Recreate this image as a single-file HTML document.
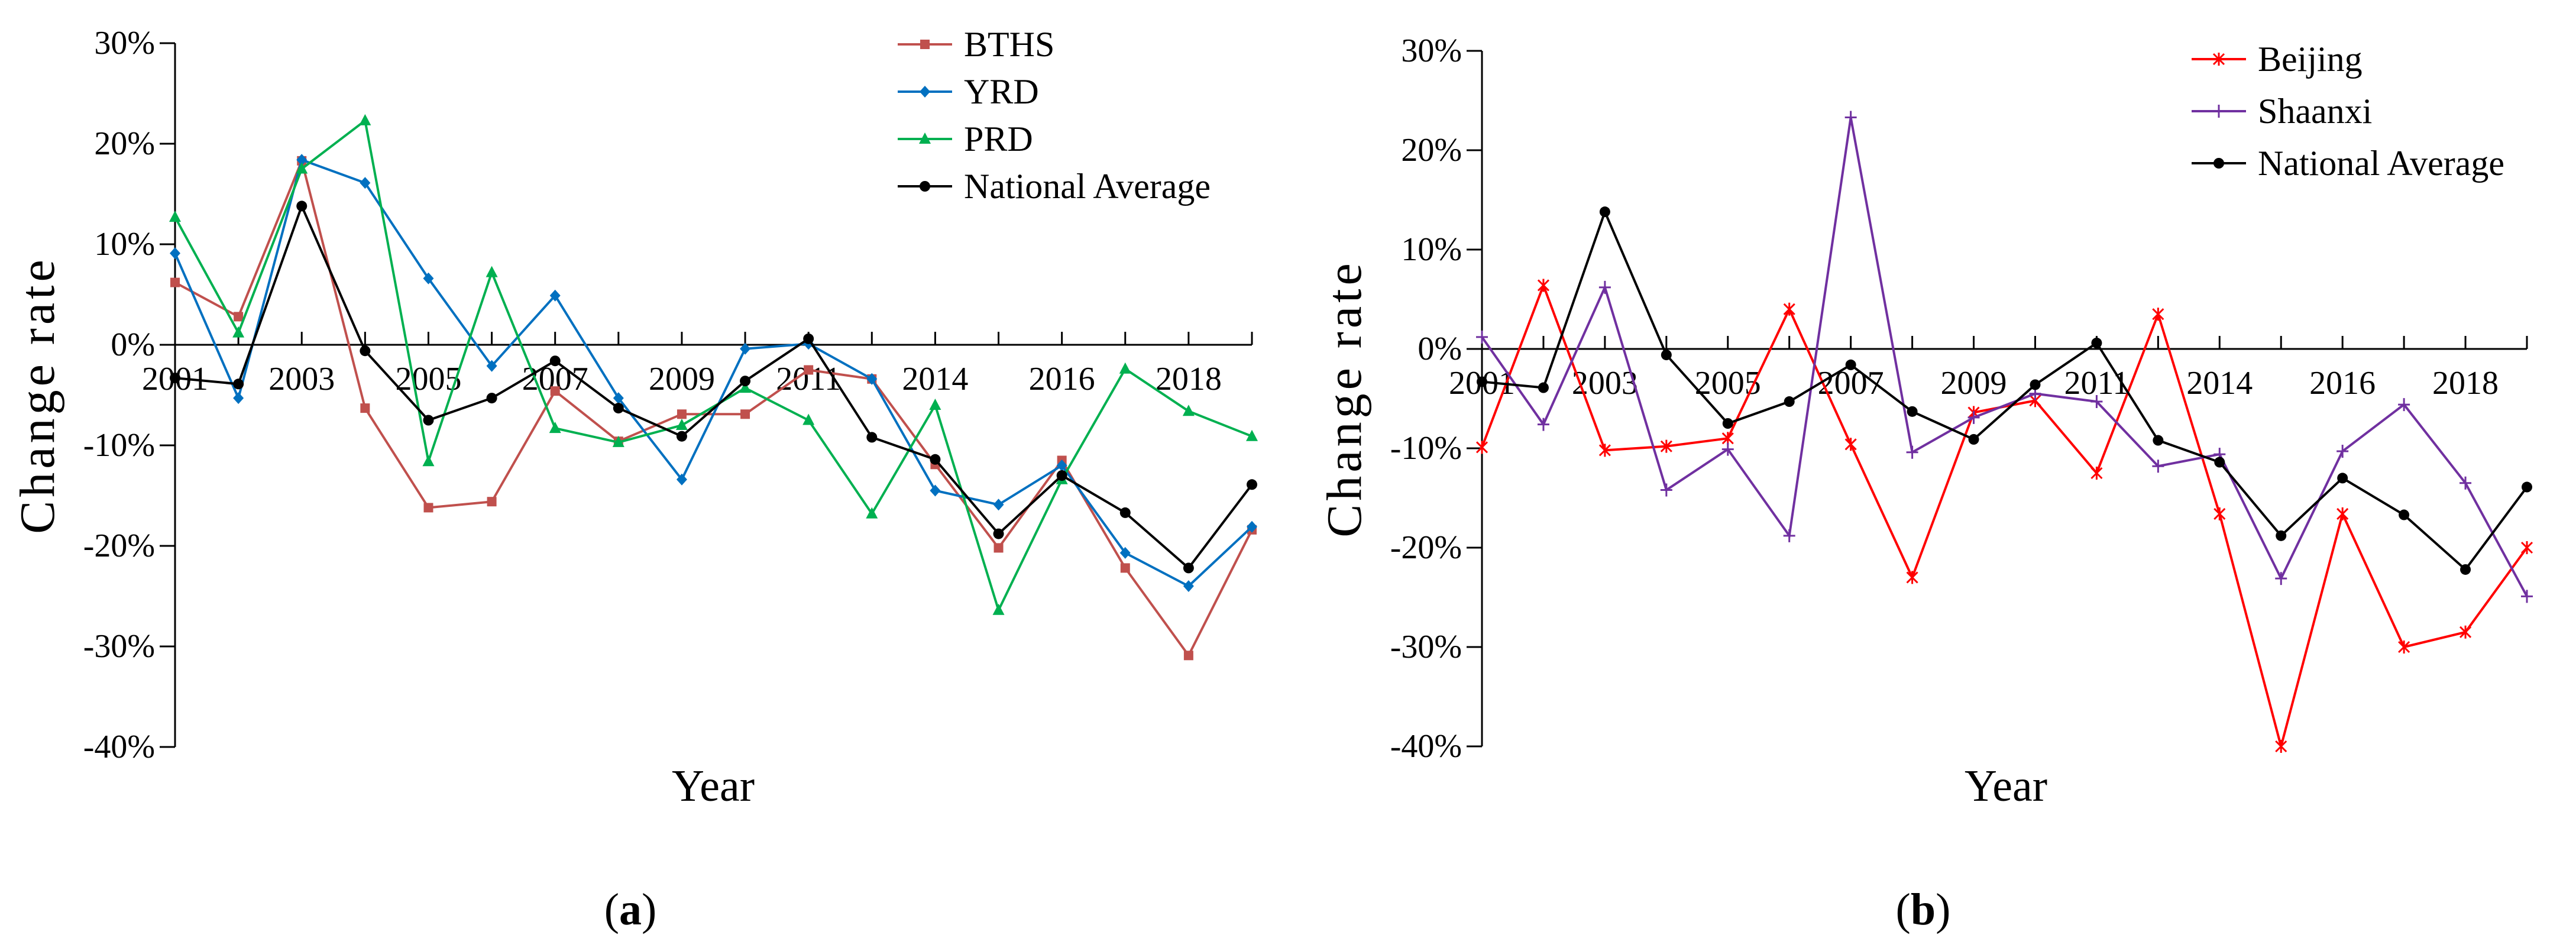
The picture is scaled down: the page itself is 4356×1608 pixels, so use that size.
<!DOCTYPE html>
<html><head><meta charset="utf-8"><style>
html,body{margin:0;padding:0;background:#fff;}
svg{display:block;font-family:"Liberation Serif",serif;}
</style></head><body>
<svg id="fig" width="4356" height="1608" viewBox="0 0 4356 1608" xmlns="http://www.w3.org/2000/svg"></svg>
<script>
const categories = ["2001","2002","2003","2004","2005","2006","2007","2008","2009","2010","2011","2012","2014","2015","2016","2017","2018","2019"];
const tickLabels = ["2001","2003","2005","2007","2009","2011","2014","2016","2018"];
const yTicks = [30,20,10,0,-10,-20,-30,-40];
const bths = [6.2,2.8,18.3,-6.3,-16.2,-15.6,-4.6,-9.6,-6.9,-6.9,-2.5,-3.4,-11.9,-20.2,-11.5,-22.2,-30.9,-18.4];
const yrd = [9.1,-5.3,18.4,16.1,6.6,-2.1,4.9,-5.3,-13.4,-0.4,0.1,-3.4,-14.5,-15.9,-12.0,-20.7,-24.0,-18.1];
const prd = [12.7,1.2,17.5,22.3,-11.6,7.2,-8.3,-9.7,-8.0,-4.3,-7.5,-16.8,-6.0,-26.4,-13.4,-2.4,-6.6,-9.1];
const national = [-3.3,-3.9,13.8,-0.6,-7.5,-5.3,-1.6,-6.3,-9.1,-3.6,0.6,-9.2,-11.4,-18.8,-13.0,-16.7,-22.2,-13.9];
const beijing = [-9.9,6.4,-10.2,-9.8,-9.0,4.0,-9.6,-23.0,-6.4,-5.2,-12.5,3.5,-16.6,-40.0,-16.6,-30.0,-28.5,-20.0];
const shaanxi = [1.2,-7.6,6.2,-14.2,-10.1,-18.8,23.3,-10.4,-6.9,-4.5,-5.3,-11.8,-10.6,-23.1,-10.3,-5.6,-13.5,-24.9];

const NS="http://www.w3.org/2000/svg";
const svg=document.getElementById('fig');
function mk(tag,attrs,parent,text){const e=document.createElementNS(NS,tag);for(const k in attrs)e.setAttribute(k,attrs[k]);if(text!==undefined)e.textContent=text;(parent||svg).appendChild(e);return e;}

function marker(g,type,x,y,color){
  let m;
  if(type==='square') m=mk('rect',{x:x-8,y:y-8,width:16,height:16,fill:color},g);
  else if(type==='diamond') m=mk('polygon',{points:`${x},${y-10} ${x+9},${y} ${x},${y+10} ${x-9},${y}`,fill:color},g);
  else if(type==='triangle') m=mk('polygon',{points:`${x},${y-11} ${x+10},${y+8} ${x-10},${y+8}`,fill:color},g);
  else if(type==='circle') m=mk('circle',{cx:x,cy:y,r:9,fill:color},g);
  else if(type==='star'){m=mk('path',{d:`M${x-9},${y-9}L${x+9},${y+9}M${x-9},${y+9}L${x+9},${y-9}M${x},${y-11}L${x},${y+11}`,stroke:color,'stroke-width':3,fill:'none'},g);}
  else if(type==='plus'){m=mk('path',{d:`M${x-10},${y}L${x+10},${y}M${x},${y-11}L${x},${y+11}`,stroke:color,'stroke-width':3,fill:'none'},g);}
  return m;
}

function chart(cfg){
  const g=mk('g',{});
  
  
  const n=categories.length;
  const xS=i=>cfg.x0+i*(cfg.x1-cfg.x0)/(n-1);
  const yS=v=>cfg.y0-v*cfg.per10/10;
  // y axis
  const ya=mk('line',{x1:cfg.x0,y1:yS(30),x2:cfg.x0,y2:yS(-40),stroke:'#000','stroke-width':3},g);
  
  
  yTicks.forEach(t=>{
    mk('line',{x1:cfg.x0-26,y1:yS(t),x2:cfg.x0,y2:yS(t),stroke:'#000','stroke-width':3},g);
    const tl=mk('text',{x:cfg.x0-34,y:yS(t)+18,'font-size':56,'text-anchor':'end'},g,t+'%');
    
    
  });
  // x axis at 0
  const xa=mk('line',{x1:cfg.x0,y1:yS(0),x2:cfg.x1,y2:yS(0),stroke:'#000','stroke-width':3},g);
  
  
  for(let i=1;i<n;i++) mk('line',{x1:xS(i),y1:yS(0)-22,x2:xS(i),y2:yS(0),stroke:'#000','stroke-width':3},g);
  tickLabels.forEach(l=>{
    const i=categories.indexOf(l);
    const tl=mk('text',{x:xS(i),y:yS(0)+76,'font-size':56,'text-anchor':'middle'},g,l);
    
    
  });
  // series
  cfg.series.forEach(s=>{
    const sg=mk('g',{},g);
    
    
    const pts=s.data.map((v,i)=>xS(i)+','+yS(v)).join(' ');
    mk('polyline',{points:pts,fill:'none',stroke:s.color,'stroke-width':4},sg);
    s.data.forEach((v,i)=>{const m=marker(sg,s.marker,xS(i),yS(v),s.color);
      
      });
  });
  // legend
  cfg.series.forEach((s,k)=>{
    const y=cfg.legY+k*cfg.legDy;
    const lg=mk('g',{},g);
    
    
    mk('line',{x1:cfg.legX,y1:y,x2:cfg.legX+92,y2:y,stroke:s.color,'stroke-width':4},lg);
    marker(lg,s.marker,cfg.legX+46,y,s.color);
    mk('text',{x:cfg.legX+112,y:y+20,'font-size':60},lg,s.label);
  });
  const yt=mk('text',{x:0,y:0,'font-size':84,'text-anchor':'middle','letter-spacing':6,transform:`translate(${cfg.x0-205},${yS(-5)}) rotate(-90)`},g,'Change  rate');
  
  
  const xt=mk('text',{x:cfg.xTitleX,y:1354,'font-size':76,'text-anchor':'middle'},g,'Year');
  
  
  const cap=mk('text',{x:cfg.xTitleX-140,y:1563,'font-size':76,'text-anchor':'middle'},g);
  
  
  mk('tspan',{},cap,'(');mk('tspan',{'font-weight':'bold'},cap,cfg.cap);mk('tspan',{},cap,')');
}

chart({name:'chart-a',x0:296,x1:2117,y0:583,per10:170,legX:1518,legY:75,legDy:80,xTitleX:1206,cap:'a',
  series:[{key:'bths',label:'BTHS',data:bths,color:'#c0504d',marker:'square'},
          {key:'yrd',label:'YRD',data:yrd,color:'#0070c0',marker:'diamond'},
          {key:'prd',label:'PRD',data:prd,color:'#00b050',marker:'triangle'},
          {key:'national-a',label:'National Average',data:national,color:'#000',marker:'circle'}]});
chart({name:'chart-b',x0:2506,x1:4273,y0:590,per10:168,legX:3706,legY:100,legDy:88,xTitleX:3392,cap:'b',
  series:[{key:'beijing',label:'Beijing',data:beijing,color:'#ff0000',marker:'star'},
          {key:'shaanxi',label:'Shaanxi',data:shaanxi,color:'#7030a0',marker:'plus'},
          {key:'national-b',label:'National Average',data:national,color:'#000',marker:'circle'}]});
</script>
</body></html>
